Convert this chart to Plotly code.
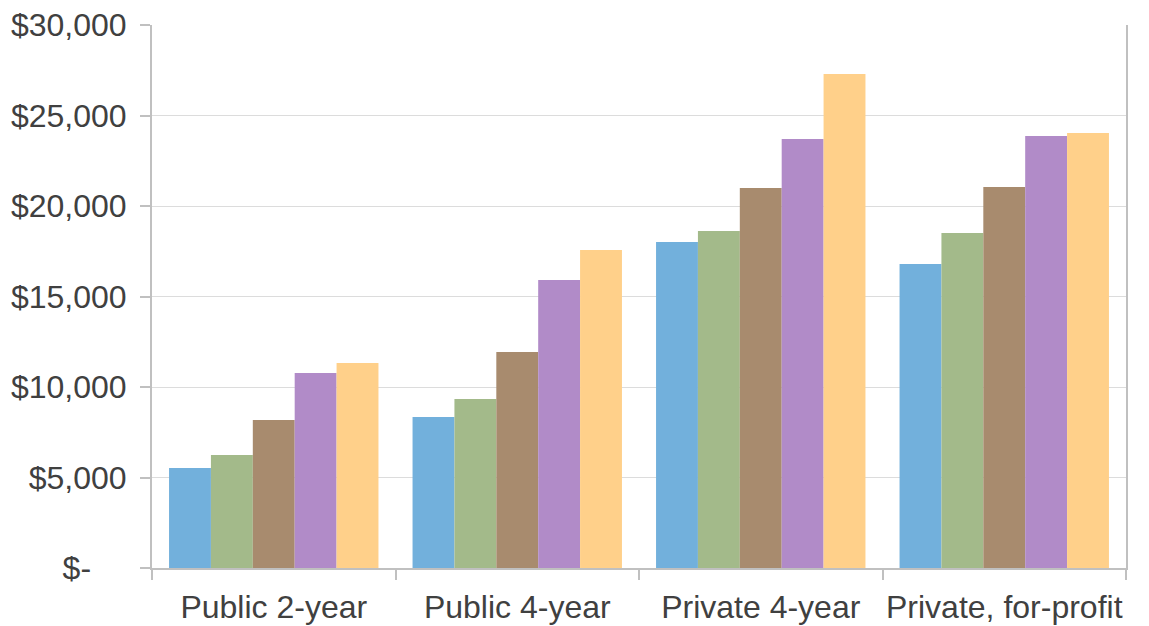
import plotly.graph_objects as go

categories = ["Public 2-year", "Public 4-year", "Private 4-year", "Private, for-profit"]

series_names = ["Series 1", "Series 2", "Series 3", "Series 4", "Series 5"]
series_values = [
    [5520, 8340, 18010, 16800],
    [6240, 9340, 18620, 18510],
    [8180, 11930, 20990, 21050],
    [10770, 15910, 23700, 23870],
    [11330, 17570, 27290, 24030],
]
colors = ["#72B0DC", "#A3BA8A", "#A88B6E", "#B18BC8", "#FFD08A"]

y_tickvals = [0, 5000, 10000, 15000, 20000, 25000, 30000]
y_ticktext = ["$-\u00a0\u00a0\u00a0\u00a0", "$5,000", "$10,000", "$15,000", "$20,000", "$25,000", "$30,000"]

fig = go.Figure()
for name, vals, col in zip(series_names, series_values, colors):
    fig.add_trace(go.Bar(
        x=categories,
        y=vals,
        name=name,
        marker=dict(color=col, line=dict(width=0)),
        showlegend=False,
    ))

fig.update_layout(
    width=1149,
    height=626,
    barmode="group",
    bargap=0.14,
    bargroupgap=0,
    plot_bgcolor="white",
    paper_bgcolor="white",
    margin=dict(l=152, r=23, t=25, b=58),
    font=dict(family="Liberation Sans, Arial, sans-serif", size=32, color="#404040"),
)
fig.update_yaxes(
    range=[0, 30000],
    tickvals=y_tickvals,
    ticktext=y_ticktext,
    automargin=False,
    showgrid=True,
    gridcolor="#dcdcdc",
    gridwidth=1,
    showline=True,
    linecolor="#c0c0c0",
    linewidth=2,
    mirror=True,
    ticks="outside",
    ticklen=10,
    tickcolor="#c0c0c0",
    tickwidth=1.5,
    ticklabelstandoff=7,
    zeroline=False,
)
fig.update_xaxes(
    automargin=False,
    tickangle=0,
    showline=True,
    linecolor="#c0c0c0",
    linewidth=2,
    ticks="outside",
    tickson="boundaries",
    ticklen=10,
    tickcolor="#c0c0c0",
    tickwidth=1.5,
    ticklabelstandoff=10,
)

# drop the default 8px page margin so the figure fills the window exactly
fig.write_html(
    "out.html",
    config={"displayModeBar": False},
    post_script="document.body.style.margin = '0';",
)
